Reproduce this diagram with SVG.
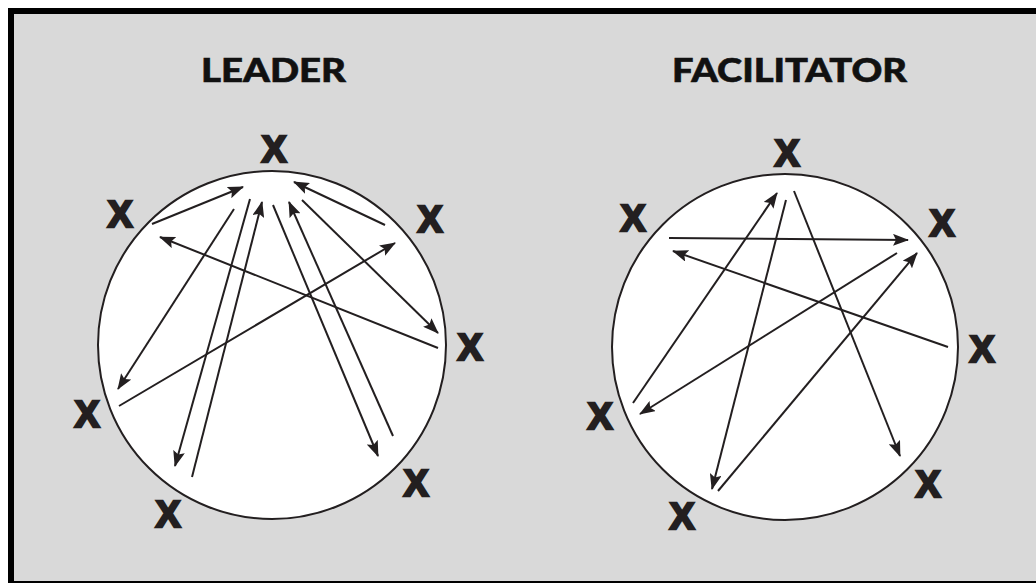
<svg xmlns="http://www.w3.org/2000/svg" width="1036" height="583" viewBox="0 0 1036 583">
<style>
.frame{fill:#d9d9d9;stroke:#000;stroke-width:6}
.ring{fill:#fff;stroke:#231f20;stroke-width:2}
.title{font-family:Lato,"Liberation Sans",sans-serif;font-weight:900;font-size:33px;fill:#111;stroke:#111;stroke-width:0.6}
.x{font-family:"Liberation Sans",Arial,sans-serif;font-weight:bold;font-size:37px;fill:#231f20;stroke:#231f20;stroke-width:2.6;stroke-linejoin:miter;text-anchor:middle}
.c line{stroke:#231f20;stroke-width:2;marker-end:url(#ah)}
</style>
<defs>
<marker id="ah" markerUnits="userSpaceOnUse" markerWidth="16" markerHeight="12" refX="15" refY="6" orient="auto">
<path d="M0,0 L16,6 L0,12 L3,6 z" fill="#231f20"/>
</marker>
</defs>
<rect class="frame" x="11" y="11" width="1040" height="573"/>
<g id="leader">
<text class="title" x="201" y="82" textLength="145" lengthAdjust="spacingAndGlyphs">LEADER</text>
<circle class="ring" cx="272" cy="345" r="174"/>
<g id="leader-x">
<text class="x" x="274" y="162">X</text>
<text class="x" x="120" y="227">X</text>
<text class="x" x="430" y="232">X</text>
<text class="x" x="470" y="360">X</text>
<text class="x" x="87" y="427">X</text>
<text class="x" x="168" y="527">X</text>
<text class="x" x="416" y="496">X</text>
</g>
</g>
<g id="facilitator">
<text class="title" x="672" y="82" textLength="235" lengthAdjust="spacingAndGlyphs">FACILITATOR</text>
<circle class="ring" cx="785" cy="347" r="173"/>
<g id="facilitator-x">
<text class="x" x="787" y="166">X</text>
<text class="x" x="633" y="231">X</text>
<text class="x" x="942" y="236">X</text>
<text class="x" x="982" y="362">X</text>
<text class="x" x="600" y="429">X</text>
<text class="x" x="682" y="529">X</text>
<text class="x" x="928" y="497">X</text>
</g>
</g>
<g id="connectors" class="c">
<line x1="152" y1="224" x2="243" y2="187"/>
<line x1="438" y1="348" x2="160" y2="237"/>
<line x1="234" y1="209" x2="118" y2="389"/>
<line x1="250" y1="199" x2="175" y2="466"/>
<line x1="192" y1="477" x2="262" y2="202"/>
<line x1="273" y1="205" x2="378" y2="456"/>
<line x1="393" y1="436" x2="289" y2="202"/>
<line x1="385" y1="225" x2="294" y2="182"/>
<line x1="302" y1="200" x2="438" y2="333"/>
<line x1="119" y1="406" x2="395" y2="243"/>
<line x1="669" y1="238" x2="908" y2="240"/>
<line x1="948" y1="347" x2="673" y2="251"/>
<line x1="633" y1="403" x2="777" y2="193"/>
<line x1="786" y1="200" x2="712" y2="489"/>
<line x1="794" y1="191" x2="900" y2="456"/>
<line x1="897" y1="253" x2="640" y2="414"/>
<line x1="718" y1="491" x2="917" y2="253"/>
</g>
</svg>
